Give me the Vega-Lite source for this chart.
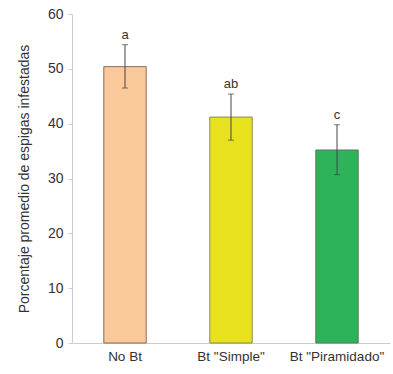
{
  "$schema": "https://vega.github.io/schema/vega-lite/v6.json",
  "autosize": {"type": "none"},
  "width": 318,
  "height": 329,
  "padding": {"left": 72, "top": 14, "right": 3, "bottom": 31},
  "background": "white",
  "config": {"view": {"stroke": null}, "font": "Liberation Sans"},
  "data": {"values": [
    {"trat": "No Bt", "media": 50.4, "lo": 46.5, "hi": 54.4, "letra": "a"},
    {"trat": "Bt \"Simple\"", "media": 41.2, "lo": 37.0, "hi": 45.4, "letra": "ab"},
    {"trat": "Bt \"Piramidado\"", "media": 35.2, "lo": 30.7, "hi": 39.8, "letra": "c"}
  ]},
  "encoding": {
    "x": {
      "field": "trat", "type": "nominal", "sort": null,
      "scale": {"paddingInner": 0.6, "paddingOuter": 0.3},
      "axis": {"title": null, "labelAngle": 0, "ticks": false, "domainColor": "#c5cdd8", "labelFontSize": 13.5, "labelColor": "#333333", "labelPadding": 6}
    }
  },
  "layer": [
    {
      "mark": {"type": "bar", "strokeWidth": 1},
      "encoding": {
        "y": {
          "field": "media", "type": "quantitative",
          "scale": {"domain": [0, 60]},
          "axis": {"title": "Porcentaje promedio de  espigas infestadas", "titleFontSize": 14, "titleFontWeight": "normal", "titleColor": "#333333", "titlePadding": 16, "values": [0, 10, 20, 30, 40, 50, 60], "grid": false, "domainColor": "#c5cdd8", "tickColor": "#c5cdd8", "tickSize": 4, "labelFontSize": 14, "labelColor": "#333333", "labelPadding": 5}
        },
        "fill": {"field": "trat", "type": "nominal", "legend": null,
          "scale": {"domain": ["No Bt", "Bt \"Simple\"", "Bt \"Piramidado\""], "range": ["#F9C89B", "#E8E21E", "#2DB35A"]}},
        "stroke": {"field": "trat", "type": "nominal", "legend": null,
          "scale": {"domain": ["No Bt", "Bt \"Simple\"", "Bt \"Piramidado\""], "range": ["#8a6e58", "#8a8a50", "#5a7a5a"]}}
      }
    },
    {
      "mark": {"type": "rule", "color": "#444444", "strokeWidth": 1},
      "encoding": {"y": {"field": "lo", "type": "quantitative"}, "y2": {"field": "hi"}}
    },
    {
      "mark": {"type": "tick", "color": "#444444", "size": 6, "thickness": 1, "orient": "horizontal"},
      "encoding": {"y": {"field": "lo", "type": "quantitative"}}
    },
    {
      "mark": {"type": "tick", "color": "#444444", "size": 6, "thickness": 1, "orient": "horizontal"},
      "encoding": {"y": {"field": "hi", "type": "quantitative"}}
    },
    {
      "mark": {"type": "text", "fontSize": 13, "color": "#333333", "dy": -10},
      "encoding": {"y": {"field": "hi", "type": "quantitative"}, "text": {"field": "letra"}}
    }
  ]
}
